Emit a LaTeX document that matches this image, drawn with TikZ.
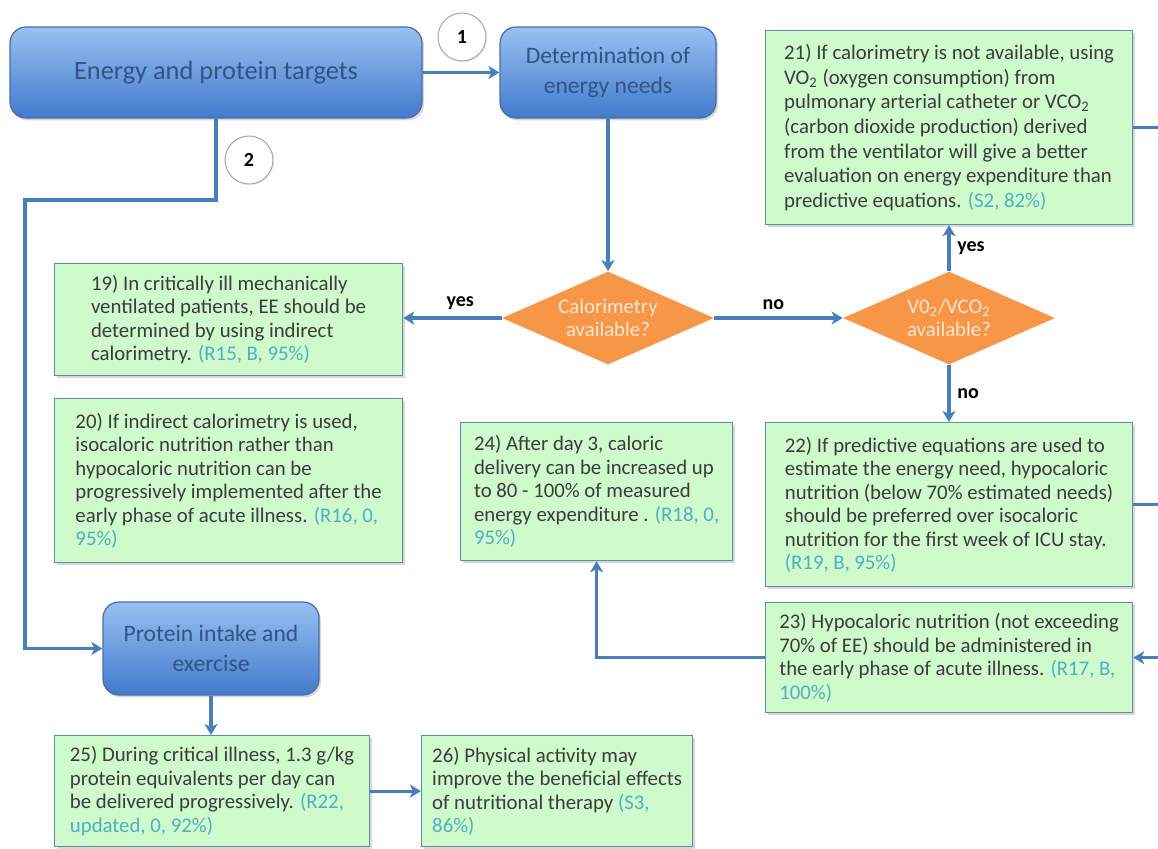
\documentclass[tikz,border=0pt]{standalone}
\usepackage{fontspec}
\setmainfont{Carlito}
\usetikzlibrary{arrows.meta,shapes.geometric,shadows}

\definecolor{notegreen}{RGB}{206,250,204}
\definecolor{noteedge}{RGB}{98,140,165}
\definecolor{notetext}{RGB}{60,60,60}
\definecolor{gradecol}{RGB}{78,176,192}
\definecolor{linkblue}{RGB}{74,126,187}
\definecolor{capstop}{RGB}{152,192,242}
\definecolor{capsbot}{RGB}{66,122,204}
\definecolor{capsedge}{RGB}{70,110,170}
\definecolor{capstext}{RGB}{50,84,130}
\definecolor{askfill}{RGB}{247,150,70}
\definecolor{asktext}{RGB}{254,232,212}

\newcommand{\grade}[1]{\textcolor{gradecol}{#1}}

\tikzset{
	note/.style 2 args={draw=noteedge, fill=notegreen, line width=0.6pt, anchor=north west, align=left, text=notetext, inner sep=3pt, minimum width=#1, minimum height=#2, font=\fontsize{10.4}{11.75}\selectfont, drop shadow={shadow xshift=1pt, shadow yshift=-1pt, opacity=0.3}},
	topic/.style={draw=capsedge, line width=0.6pt, rounded corners=8pt, top color=capstop, bottom color=capsbot, text=capstext, align=center, font=\fontsize{11.8}{15}\selectfont, drop shadow={shadow xshift=1pt, shadow yshift=-1.2pt, opacity=0.3}},
	ask/.style={diamond, fill=askfill, text=asktext, align=center, inner sep=0pt, aspect=2.3, minimum width=106pt, minimum height=46.5pt, font=\fontsize{10.4}{11.5}\selectfont},
	badge/.style={circle, draw=gray!70, fill=white, line width=0.5pt, minimum size=24pt, inner sep=0pt, font=\bfseries\fontsize{10}{12}\selectfont, drop shadow={shadow xshift=0.6pt, shadow yshift=-0.6pt, opacity=0.15}},
	link/.style={draw=linkblue, line width=1.6pt},
	flow/.style={link, -{Stealth[length=5.5pt, width=6.5pt, inset=1.5pt]}},
	answer/.style={font=\bfseries\fontsize{10}{12}\selectfont}
}

\begin{document}
\begin{tikzpicture}[x=0.5pt, y=-0.5pt]
	\fill[white] (0, 0) rectangle (1158, 848);
	\useasboundingbox (0, 0) rectangle (1158, 848);

	% headings and questions
	\node[topic, minimum width=206pt, minimum height=45.5pt, font=\fontsize{13.2}{16}\selectfont] (targets) at (216, 72.5) {Energy and protein targets};
	\node[topic, minimum width=108pt, minimum height=45.5pt] (needs) at (608, 72.5) {Determination of\\energy needs};
	\node[topic, minimum width=108pt, minimum height=46.5pt] (protein) at (211, 648.5) {Protein intake and\\exercise};
	\node[badge] (one) at (462, 37) {1};
	\node[badge] (two) at (249, 160) {2};
	\node[ask] (calo) at (608, 318) {Calorimetry\\available?};
	\node[ask] (vo) at (949, 318) {V0\textsubscript{2}/VCO\textsubscript{2}\\available?};

	% recommendations
	\node[note={174pt}{56pt}] (r19) at (54, 263) {19) In critically ill mechanically\\ventilated patients, EE should be\\determined by using indirect\\calorimetry. \grade{(R15, B, 95\%)}};
	\node[note={174pt}{82pt}] (r20) at (54, 398) {20) If indirect calorimetry is used,\\isocaloric nutrition rather than\\hypocaloric nutrition can be\\progressively implemented after the\\early phase of acute illness. \grade{(R16, 0,}\\\grade{95\%)}};
	\node[note={183.5pt}{97pt}, font=\fontsize{10.4}{12.3}\selectfont] (r21) at (765, 30) {21) If calorimetry is not available, using\\VO\textsubscript{2} (oxygen consumption) from\\pulmonary arterial catheter or VCO\textsubscript{2}\\(carbon dioxide production) derived\\from the ventilator will give a better\\evaluation on energy expenditure than\\predictive equations. \grade{(S2, 82\%)}};
	\node[note={183.5pt}{82pt}] (r22) at (765, 422) {22) If predictive equations are used to\\estimate the energy need, hypocaloric\\nutrition (below 70\% estimated needs)\\should be preferred over isocaloric\\nutrition for the first week of ICU stay.\\\grade{(R19, B, 95\%)}};
	\node[note={183.5pt}{55pt}] (r23) at (765, 602) {23) Hypocaloric nutrition (not exceeding\\70\% of EE) should be administered in\\the early phase of acute illness. \grade{(R17, B,}\\\grade{100\%)}};
	\node[note={136pt}{69pt}] (r24) at (460, 422) {24) After day 3, caloric\\delivery can be increased up\\to 80 - 100\% of measured\\energy expenditure . \grade{(R18, 0,}\\\grade{95\%)}};
	\node[note={157.5pt}{55.5pt}] (r25) at (54, 735) {25) During critical illness, 1.3 g/kg\\protein equivalents per day can\\be delivered progressively. \grade{(R22,}\\\grade{updated, 0, 92\%)}};
	\node[note={135.5pt}{55.5pt}] (r26) at (421, 735) {26) Physical activity may\\improve the beneficial effects\\of nutritional therapy \grade{(S3,}\\\grade{86\%)}};

	% connectors
	\coordinate (bend) at (25, 200);
	\coordinate (rail) at (1175, 0);
	\draw[flow] (targets) -- (needs);
	\draw[flow] (targets.south) |- (bend) |- (protein.west);
	\draw[flow] (needs) -- (calo);
	\draw[flow] (calo.west) -- (calo.west -| r19.east) node[answer, pos=0.42, above] {yes};
	\draw[flow] (calo) -- (vo) node[answer, pos=0.46, above] {no};
	\draw[flow] (vo) -- (vo.north |- r21.south) node[answer, midway, right] {yes};
	\draw[flow] (vo) -- (vo.south |- r22.north) node[answer, midway, right] {no};
	\draw[link] (r21.east) -- (r21.east -| rail) -- (r23.east -| rail);
	\draw[link] (r22.east) -- (r22.east -| rail);
	\draw[flow] (r23.east -| rail) -- (r23.east);
	\draw[flow] (r23.west) -| (r24.south);
	\draw[flow] (protein) -- (protein.south |- r25.north);
	\draw[flow] (r25) -- (r26);
\end{tikzpicture}
\end{document}
